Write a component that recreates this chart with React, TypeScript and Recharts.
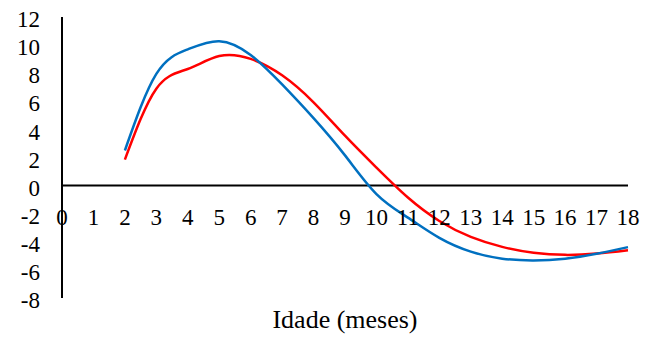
import React from "react";
import { LineChart, Line, XAxis, YAxis, ReferenceLine } from "recharts";

const ages = [2, 3, 4, 5, 6, 7, 8, 9, 10, 11, 12, 13, 14, 15, 16, 17, 18];
const blueSeries = [2.5, 7.95, 9.7, 10.28, 9.3, 7.2, 4.8, 2.15, -0.6, -2.28, -3.72, -4.7, -5.2, -5.33, -5.2, -4.85, -4.38];
const redSeries = [1.85, 6.9, 8.3, 9.22, 9.02, 7.85, 5.93, 3.55, 1.28, -0.85, -2.52, -3.65, -4.36, -4.78, -4.93, -4.84, -4.6];
const xTicks = [0, 1, 2, 3, 4, 5, 6, 7, 8, 9, 10, 11, 12, 13, 14, 15, 16, 17, 18];
const yTicks = [-8, -6, -4, -2, 0, 2, 4, 6, 8, 10, 12];
const xTitle = "Idade (meses)";

const data = ages.map((x, i) => ({ x, blue: blueSeries[i], red: redSeries[i] }));

const W = 665;
const H = 338;
const TOP = 17;
const XAXIS_H = 40;
const Y_MIN = -8;
const Y_MAX = 12;
const PLOT_H = H - TOP - XAXIS_H;
const zeroY = TOP + (PLOT_H * Y_MAX) / (Y_MAX - Y_MIN);
const FONT = "'Liberation Serif', 'Times New Roman', serif";

const XTick = (props: any) => {
  const { x, payload } = props;
  return (
    <text x={x} y={zeroY + 31} dy="0.355em" textAnchor="middle" style={{ fontFamily: FONT }} fontSize={23} fill="#000">
      {payload.value}
    </text>
  );
};

const YTick = (props: any) => {
  const { x, y, payload } = props;
  return (
    <text x={x} y={y + 2} dy="0.355em" textAnchor="end" style={{ fontFamily: FONT }} fontSize={23} fill="#000">
      {payload.value}
    </text>
  );
};

const XTitle = (props: any) => {
  const vb = props.viewBox || {};
  return (
    <text x={vb.x + vb.width / 2} y={vb.y + 30} textAnchor="middle" style={{ fontFamily: FONT }} fontSize={26} fill="#000">
      {xTitle}
    </text>
  );
};

export default function App() {
  return (
    <div style={{ position: "absolute", left: 0, top: 0, background: "#fff", fontFamily: FONT }}>
      <LineChart
        width={W}
        height={H}
        data={data}
        margin={{ top: TOP, right: 37, bottom: 0, left: 0 }}
        style={{ fontFamily: FONT }}
      >
        <XAxis
          dataKey="x"
          type="number"
          domain={[0, 18]}
          ticks={xTicks}
          interval={0}
          height={XAXIS_H}
          axisLine={false}
          tickLine={false}
          tick={<XTick />}
          label={{ content: <XTitle /> }}
        />
        <YAxis
          type="number"
          domain={[Y_MIN, Y_MAX]}
          ticks={yTicks}
          interval={0}
          width={62}
          axisLine={{ stroke: "#000", strokeWidth: 2 }}
          tickLine={false}
          tickMargin={16}
          tick={<YTick />}
        />
        <ReferenceLine y={0} stroke="#000" strokeWidth={2} />
        <Line type="natural" dataKey="red" stroke="#FF0000" strokeWidth={2.5} dot={false} isAnimationActive={false} />
        <Line type="natural" dataKey="blue" stroke="#0070C0" strokeWidth={2.5} dot={false} isAnimationActive={false} />
      </LineChart>
    </div>
  );
}
